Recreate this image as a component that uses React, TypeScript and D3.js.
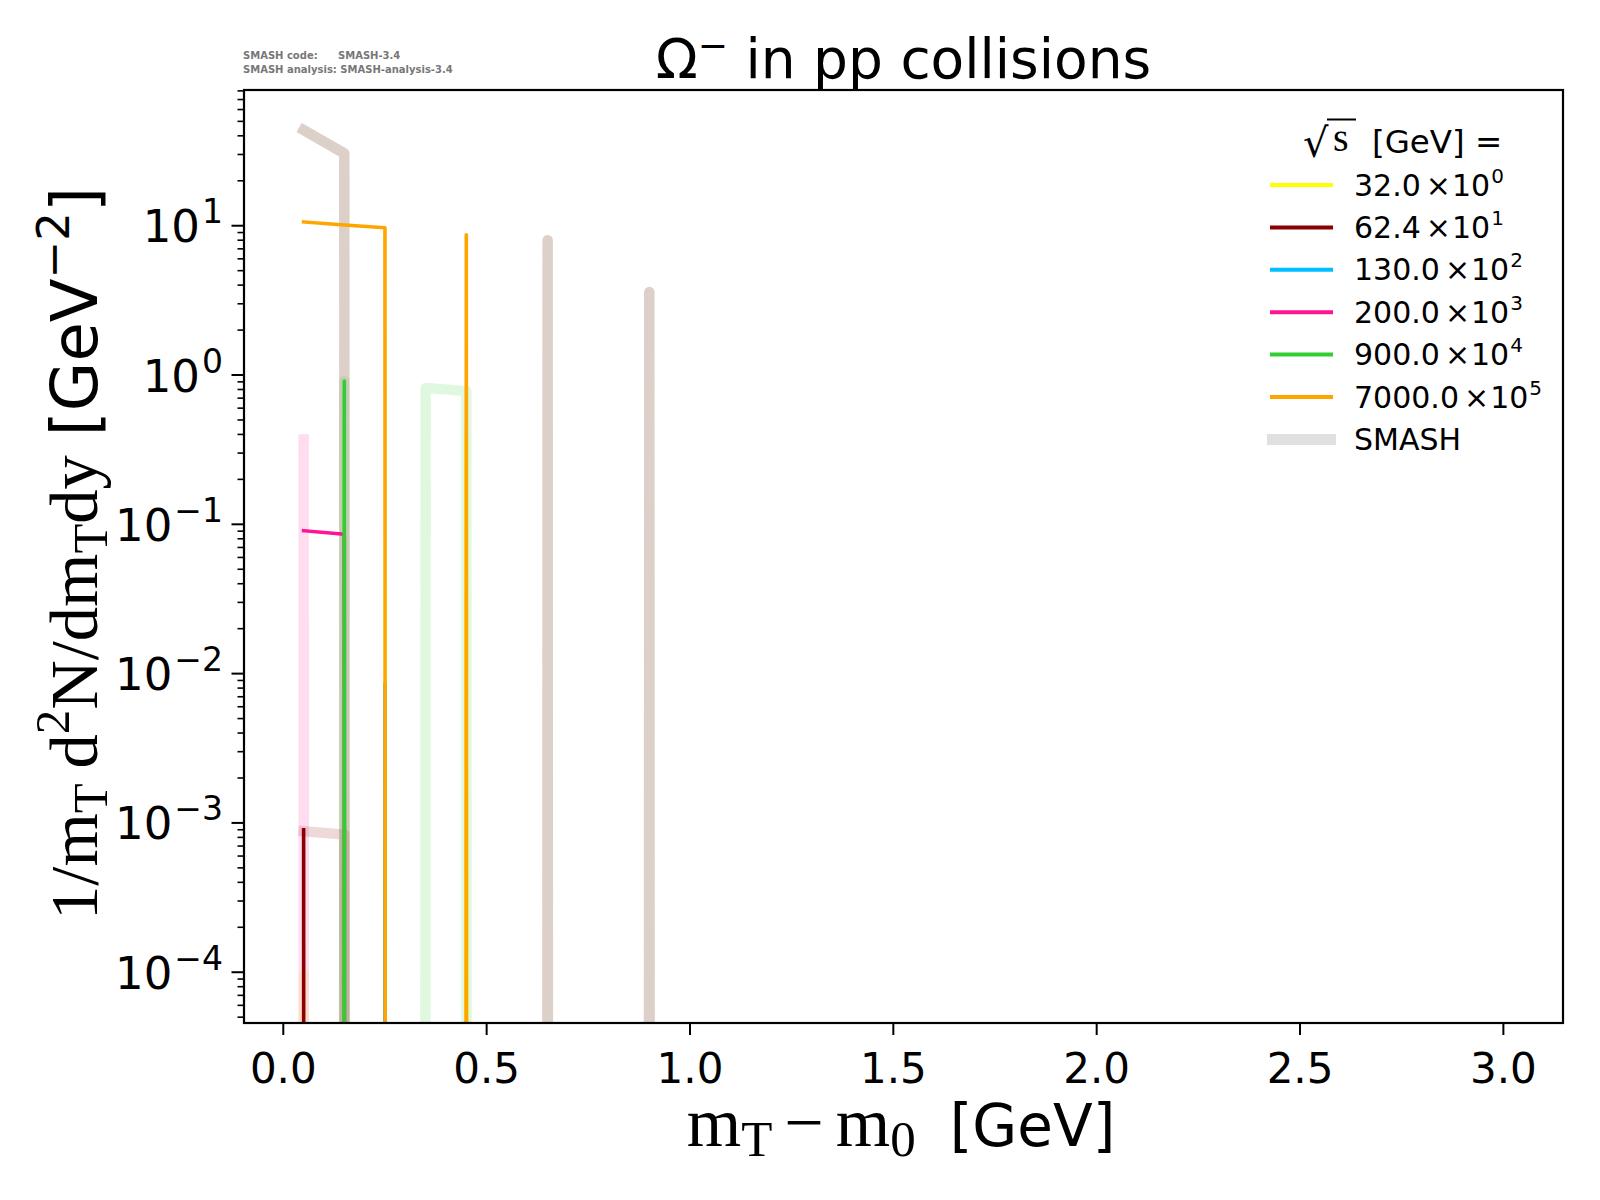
import * as d3 from 'd3';

// figure geometry (px)
const W = 1600;
const H = 1200;
const plot = { left: 244, right: 1563, top: 90, bottom: 1023 };

const SANS = 'DejaVu Sans';
const SERIF = 'Liberation Serif';

// axes
const xDomain = [-0.0966, 3.1466];
const yDomain = [4.57e-5, 81.1];
const xTicks = [0, 0.5, 1, 1.5, 2, 2.5, 3];
const xTickLabels = ['0.0', '0.5', '1.0', '1.5', '2.0', '2.5', '3.0'];
const yTickExps = [-4, -3, -2, -1, 0, 1];

// legend / series
const energies = ['32.0', '62.4', '130.0', '200.0', '900.0', '7000.0'];
const energyExps = [0, 1, 2, 3, 4, 5];
const colors = ['#ffff00', '#8b0000', '#00bfff', '#ff1493', '#32cd32', '#ffa500'];

// experimental data, m_T - m_0 bins
const mtBins = [0.05, 0.15, 0.25, 0.35, 0.45, 0.55];
const exp32 = [0, 0, 0, 0, 0.39, 0];
const exp62 = [9.0e-4, 0, 0, 0, 0, 0];
const exp130 = [0, 0, 0.0085, 0, 0, 0];
const exp200 = [0.0906, 0.0857, 0, 0, 0, 0];
const exp900 = [0, 0.91, 0, 0, 0, 0];
const exp7000 = [10.6, 10.1, 9.7, 0, 8.7, 0];

// SMASH curves
const smashBins = [0.05, 0.15, 0.25, 0.35, 0.45, 0.55, 0.65, 0.75, 0.9, 1.05];
const smash32 = [9.4e-5, 0, 0, 0, 0, 0, 0, 0, 0, 0];
const smash62 = [8.8e-4, 8.35e-4, 0, 0, 0, 0, 0, 0, 0, 0];
const smash200 = [0.37, 0, 0, 0, 0, 0, 0, 0, 0, 0];
const smash900 = [0, 0.91, 0, 0.82, 0.78, 0, 0, 0, 0, 0];
const smash7000 = [43.7, 30.5, 0, 0, 0, 0, 8.0, 0, 3.6, 0];

const expSeries = [exp32, exp62, exp130, exp200, exp900, exp7000];
const smashSeries = [
    { values: smash32, color: 'rgba(255,255,0,0.15)' },
    { values: smash62, color: 'rgba(139,0,0,0.15)' },
    { values: smash200, color: 'rgba(255,20,147,0.15)' },
    { values: smash900, color: 'rgba(50,205,50,0.15)' },
    { values: smash7000, color: 'rgba(140,100,75,0.3)' },
];

const sup = (s: string) => s.replace('-', '\u2212');

export default function App() {
    const x = d3.scaleLinear().domain(xDomain).range([plot.left, plot.right]);
    const y = d3.scaleLog().domain(yDomain).range([plot.bottom, plot.top]);

    // non-positive values are clipped far below the axis, like matplotlib's log scale
    const decade = y(1) - y(10);
    const yPos = (v: number) => (v > 0 ? y(v) : y(1) + 1000 * decade);

    const line = (xs: number[], vs: number[]) =>
        d3.line<number>()
            .x((_, i) => x(xs[i]))
            .y(v => yPos(v))(vs) || '';

    // minor log ticks
    const minor: number[] = [];
    for (let e = -5; e <= 1; e++) {
        for (let k = 2; k <= 9; k++) {
            const v = k * Math.pow(10, e);
            if (v >= yDomain[0] && v <= yDomain[1]) minor.push(v);
        }
    }

    const rowY = (i: number) => 185 + i * 42.4;

    return (
        <svg width={W} height={H} style={{ position: 'absolute', left: 0, top: 0, background: '#fff' }}>
            <defs>
                <clipPath id="plot-area">
                    <rect x={plot.left} y={plot.top} width={plot.right - plot.left} height={plot.bottom - plot.top} />
                </clipPath>
            </defs>

            {/* watermark */}
            <g fontFamily={SANS} fontSize={10} fontWeight="bold" fill="#777">
                <text x={243} y={59}>SMASH code:</text>
                <text x={338} y={59}>SMASH-3.4</text>
                <text x={243} y={72.5}>SMASH analysis: SMASH-analysis-3.4</text>
            </g>

            {/* title */}
            <text x={(plot.left + plot.right) / 2} y={78} textAnchor="middle" fontFamily={SANS} fontSize={55}>
                Ω<tspan fontSize={36} dy={-20}>{'\u2212'}</tspan>
                <tspan dy={20}> in pp collisions</tspan>
            </text>

            {/* data */}
            <g clipPath="url(#plot-area)" fill="none" strokeLinejoin="round" strokeLinecap="square">
                {smashSeries.map((s, i) => (
                    <path key={'s' + i} d={line(smashBins, s.values)} stroke={s.color} strokeWidth={10.5} />
                ))}
                {expSeries.map((vals, i) => (
                    <path key={'e' + i} d={line(mtBins, vals)} stroke={colors[i]} strokeWidth={3.6} />
                ))}
            </g>

            {/* ticks */}
            <g stroke="#000" strokeWidth={2}>
                {yTickExps.map(e => (
                    <line key={e} x1={plot.left - 12.5} x2={plot.left} y1={y(Math.pow(10, e))} y2={y(Math.pow(10, e))} />
                ))}
                {minor.map(v => (
                    <line key={v} x1={plot.left - 6.5} x2={plot.left} y1={y(v)} y2={y(v)} strokeWidth={1.6} />
                ))}
                {xTicks.map(t => (
                    <line key={t} x1={x(t)} x2={x(t)} y1={plot.bottom} y2={plot.bottom + 12} />
                ))}
            </g>
            <g fontFamily={SANS}>
                {yTickExps.map(e => (
                    <text key={e} x={223} y={y(Math.pow(10, e)) + 16.5} textAnchor="end" fontSize={45}>
                        10<tspan fontSize={33} dx={2} dy={-19}>{sup(String(e))}</tspan>
                    </text>
                ))}
                {xTicks.map((t, i) => (
                    <text key={t} x={x(t)} y={1083} textAnchor="middle" fontSize={42}>{xTickLabels[i]}</text>
                ))}
            </g>

            {/* spines */}
            <rect x={plot.left} y={plot.top} width={plot.right - plot.left} height={plot.bottom - plot.top}
                fill="none" stroke="#000" strokeWidth={2.2} />

            {/* x label */}
            <text x={901} y={1146} textAnchor="middle">
                <tspan fontFamily={SERIF} fontSize={70}>m</tspan>
                <tspan fontFamily={SERIF} fontSize={51} dy={10}>T</tspan>
                <tspan fontFamily={SERIF} fontSize={70} dy={-10} dx={12}>{'\u2212'}</tspan>
                <tspan fontFamily={SERIF} fontSize={70} dx={12}>m</tspan>
                <tspan fontFamily={SERIF} fontSize={51} dy={10}>0</tspan>
                <tspan fontFamily={SANS} fontSize={58} dy={-10} dx={34}>[GeV]</tspan>
            </text>

            {/* y label */}
            <text transform={`translate(97,${(plot.top + plot.bottom) / 2 - 3}) rotate(-90)`} textAnchor="middle">
                <tspan fontFamily={SERIF} fontSize={68.5}>1/m</tspan>
                <tspan fontFamily={SERIF} fontSize={49} dy={10}>T</tspan>
                <tspan fontFamily={SERIF} fontSize={68.5} dy={-10} dx={15}>d</tspan>
                <tspan fontFamily={SERIF} fontSize={49} dy={-28}>2</tspan>
                <tspan fontFamily={SERIF} fontSize={68.5} dy={28}>N/dm</tspan>
                <tspan fontFamily={SERIF} fontSize={49} dy={10}>T</tspan>
                <tspan fontFamily={SERIF} fontSize={68.5} dy={-10}>dy</tspan>
                <tspan fontFamily={SANS} fontSize={64} dx={19}>[GeV</tspan>
                <tspan fontFamily={SANS} fontSize={45} dy={-28}>{'\u22122'}</tspan>
                <tspan fontFamily={SANS} fontSize={64} dy={28}>]</tspan>
            </text>

            {/* legend */}
            <g>
                <text x={1303} y={157} fontFamily={SANS} fontSize={40}>√</text>
                <line x1={1327} x2={1356} y1={119.5} y2={119.5} stroke="#000" strokeWidth={2} />
                <text x={1333} y={151} fontFamily={SERIF} fontSize={40}>s</text>
                <text x={1372} y={152.5} fontFamily={SANS} fontSize={32.5}>[GeV] =</text>
                {energies.map((en, i) => (
                    <g key={en}>
                        <line x1={1270} x2={1333} y1={rowY(i)} y2={rowY(i)} stroke={colors[i]} strokeWidth={4} />
                        <text x={1354} y={rowY(i) + 10.5} fontFamily={SANS} fontSize={30}>
                            {en}<tspan dx={5}>×</tspan><tspan dx={1}>10</tspan>
                            <tspan fontSize={20} dx={1} dy={-13}>{energyExps[i]}</tspan>
                        </text>
                    </g>
                ))}
                <line x1={1267} x2={1336} y1={rowY(6)} y2={rowY(6)} stroke="#e0e0e0" strokeWidth={11} />
                <text x={1354} y={rowY(6) + 10.5} fontFamily={SANS} fontSize={30}>SMASH</text>
            </g>
        </svg>
    );
}
